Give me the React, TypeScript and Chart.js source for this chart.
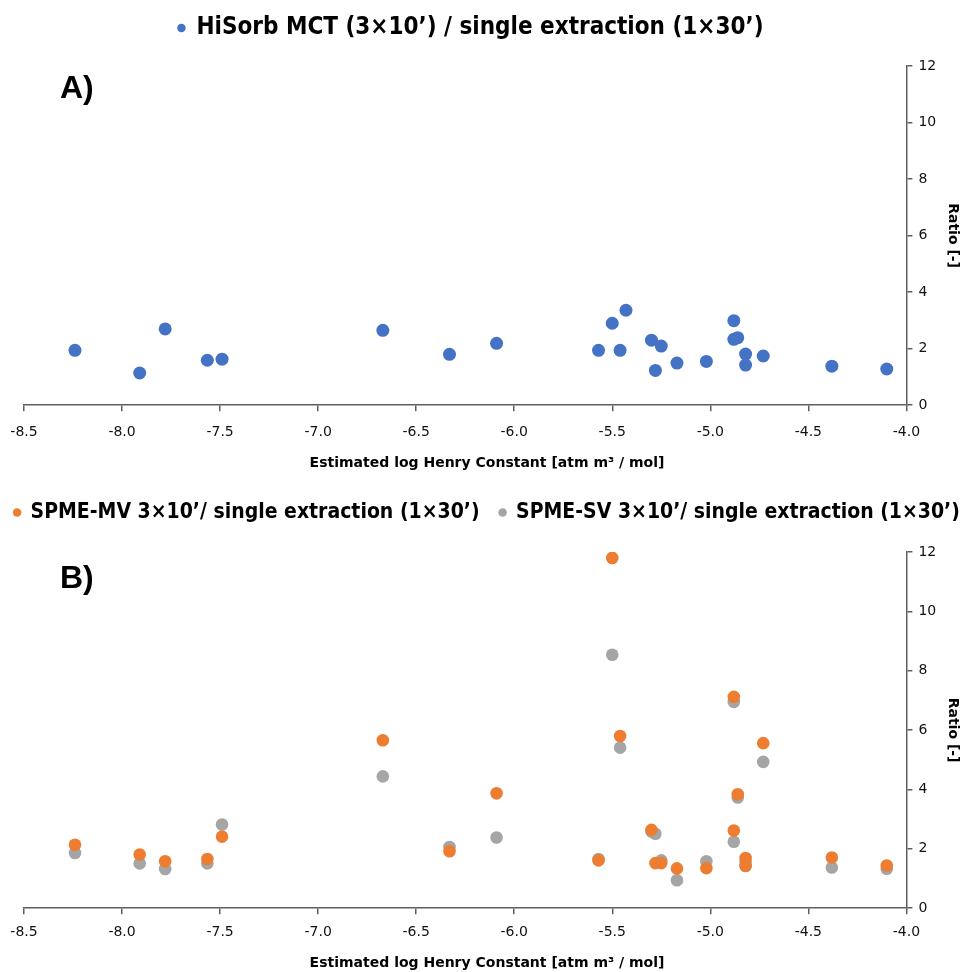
import React, { useEffect, useRef } from 'react';
import { Chart, registerables } from 'chart.js';

Chart.register(...registerables);

// Estimated log Henry constant of each compound (shared by both panels)
const henryLog = [
  -8.24, -7.91, -7.78, -7.565, -7.49, -6.67, -6.33, -6.09, -5.57, -5.5, -5.46, -5.43,
  -5.3, -5.28, -5.25, -5.17, -5.02, -4.88, -4.88, -4.86, -4.82, -4.82, -4.73, -4.38, -4.1,
];

// Panel A: HiSorb MCT ratio
const hisorbRatio = [
  1.94, 1.14, 2.7, 1.59, 1.63, 2.65, 1.8, 2.19, 1.94, 2.9, 1.94, 3.36,
  2.3, 1.23, 2.09, 1.49, 1.55, 2.99, 2.33, 2.39, 1.81, 1.42, 1.74, 1.38, 1.28,
];

// Panel B: SPME-MV and SPME-SV ratios
const spmeMvRatio = [
  2.14, 1.81, 1.58, 1.66, 2.41, 5.66, 1.92, 3.87, 1.61, 11.8, 5.8, null,
  2.64, 1.52, 1.52, 1.34, 1.35, 7.12, 2.62, 3.84, 1.69, 1.43, 5.56, 1.71, 1.44,
];
const spmeSvRatio = [
  1.86, 1.51, 1.32, 1.51, 2.82, 4.44, 2.06, 2.38, 1.66, 8.54, 5.41, null,
  2.58, 2.51, 1.61, 0.94, 1.58, 6.95, 2.24, 3.73, 1.56, 1.42, 4.93, 1.37, 1.33,
];

const xTicks = [-8.5, -8.0, -7.5, -7.0, -6.5, -6.0, -5.5, -5.0, -4.5, -4.0];
const yTicks = [0, 2, 4, 6, 8, 10, 12];

const legendHiSorb = 'HiSorb MCT (3×10’) / single extraction (1×30’)';
const legendMv = 'SPME-MV 3×10’/ single extraction (1×30’)';
const legendSv = 'SPME-SV 3×10’/ single extraction (1×30’)';
const xTitle = 'Estimated log Henry Constant [atm m³ / mol]';
const yTitle = 'Ratio [-]';

const BLUE = '#4472C4';
const ORANGE = '#ED7D31';
const GRAY = '#A5A5A5';
const AXIS = '#5f5f5f';

const toPoints = (ys: (number | null)[]) =>
  henryLog.map((x, i) => ({ x, y: ys[i] })).filter((p) => p.y !== null);

const panelText = {
  id: 'panelText',
  afterDraw(chart: any, _args: any, opts: any) {
    const { ctx, chartArea } = chart;
    ctx.save();
    ctx.fillStyle = '#000';
    ctx.font = 'bold 32px "Liberation Sans", Arial, sans-serif';
    ctx.textAlign = 'left';
    ctx.textBaseline = 'alphabetic';
    ctx.fillText(opts.label, opts.labelX, opts.labelY);
    ctx.font = 'bold 14px "DejaVu Sans", Verdana, sans-serif';
    ctx.textAlign = 'center';
    ctx.textBaseline = 'middle';
    ctx.fillText(xTitle, opts.titleX, chartArea.bottom + opts.titleOffset);
    ctx.restore();
  },
};

// extra space below the legend row, no wrapping, optional horizontal shift
const legendTweak = {
  id: 'legendTweak',
  beforeInit(chart: any, _args: any, opts: any) {
    const legend = chart.legend;
    if (!legend) return;
    const orig = legend.fit;
    legend.fit = function () {
      const mw = this.maxWidth;
      this.maxWidth = mw + 60;
      orig.call(this);
      this.maxWidth = mw;
      this.width = Math.min(this.width, mw);
      this.height += opts.extra || 0;
    };
  },
  afterLayout(chart: any, _args: any, opts: any) {
    const legend = chart.legend;
    if (!legend) return;
    const widen = 30;
    legend.left += (opts.dx || 0) - widen;
    legend.right += (opts.dx || 0) + widen;
  },
};

type PanelProps = {
  top: number;
  height: number;
  datasets: any[];
  legendSize: number;
  legendPad: number;
  legendExtra: number;
  legendDx: number;
  padTop: number;
  tickPad: number;
  padBottom: number;
  label: string;
  labelY: number;
  titleOffset: number;
};

function Panel(p: PanelProps) {
  const ref = useRef<HTMLCanvasElement | null>(null);
  useEffect(() => {
    if (!ref.current) return;
    const tickFont = { family: '"DejaVu Sans", Verdana, sans-serif', size: 14 };
    const chart = new Chart(ref.current, {
      type: 'scatter',
      data: { datasets: p.datasets },
      options: {
        animation: false,
        responsive: true,
        maintainAspectRatio: false,
        layout: { padding: { left: 5, right: 7, top: p.padTop, bottom: p.padBottom } },
        plugins: {
          legend: {
            position: 'top',
            labels: {
              usePointStyle: true,
              boxWidth: 6,
              boxHeight: 6,
              padding: p.legendPad,
              color: '#000',
              font: {
                family: '"Liberation Sans Narrow", "DejaVu Sans Condensed", Arial, sans-serif',
                size: p.legendSize,
                weight: 'bold',
              },
            },
          },
          tooltip: { enabled: false },
          legendTweak: { extra: p.legendExtra, dx: p.legendDx },
          panelText: { label: p.label, labelX: 60, labelY: p.labelY, titleX: 487, titleOffset: p.titleOffset },
        } as any,
        scales: {
          x: {
            type: 'linear',
            min: xTicks[0],
            max: xTicks[xTicks.length - 1],
            afterBuildTicks: (axis: any) => {
              axis.ticks = xTicks.map((v) => ({ value: v }));
            },
            afterFit: (axis: any) => {
              axis.paddingLeft = 24;
            },
            ticks: {
              callback: (v: any) => Number(v).toFixed(1),
              font: tickFont,
              color: '#111',
              padding: p.tickPad,
            },
            grid: { drawOnChartArea: false, drawTicks: true, tickLength: 6, color: AXIS, lineWidth: 1.5 },
            border: { display: true, color: AXIS, width: 1.5 },
          },
          y: {
            type: 'linear',
            position: 'right',
            min: yTicks[0],
            max: yTicks[yTicks.length - 1],
            afterBuildTicks: (axis: any) => {
              axis.ticks = yTicks.map((v) => ({ value: v }));
            },
            ticks: { font: tickFont, color: '#111', padding: 6 },
            grid: { drawOnChartArea: false, drawTicks: true, tickLength: 6, color: AXIS, lineWidth: 1.5 },
            border: { display: true, color: AXIS, width: 1.5 },
            title: {
              display: true,
              text: yTitle,
              color: '#000',
              padding: 2,
              font: { family: '"DejaVu Sans", Verdana, sans-serif', size: 14, weight: 'bold' },
            },
          },
        },
      },
      plugins: [legendTweak, panelText],
    });
    return () => chart.destroy();
  }, []);
  return (
    <div style={{ position: 'absolute', left: 0, top: p.top, width: 970, height: p.height }}>
      <canvas ref={ref} />
    </div>
  );
}

export default function App() {
  const dsA = [
    {
      label: legendHiSorb,
      data: toPoints(hisorbRatio),
      backgroundColor: BLUE,
      borderColor: BLUE,
      borderWidth: 0,
      pointRadius: 6.5,
      pointStyle: 'circle',
    },
  ];
  const dsB = [
    {
      label: legendMv,
      data: toPoints(spmeMvRatio),
      backgroundColor: ORANGE,
      borderColor: ORANGE,
      borderWidth: 0,
      pointRadius: 6.3,
      pointStyle: 'circle',
    },
    {
      label: legendSv,
      data: toPoints(spmeSvRatio),
      backgroundColor: GRAY,
      borderColor: GRAY,
      borderWidth: 0,
      pointRadius: 6.3,
      pointStyle: 'circle',
    },
  ];
  return (
    <div style={{ position: 'absolute', left: 0, top: 0, width: 970, height: 972, background: '#fff' }}>
      <Panel top={0} height={481} datasets={dsA} legendSize={24} legendPad={12} legendExtra={16} legendDx={-13}
        padTop={4} tickPad={13} padBottom={27} label="A)" labelY={98} titleOffset={58} />
      <Panel top={482} height={490} datasets={dsB} legendSize={21} legendPad={20} legendExtra={19} legendDx={3}
        padTop={0} tickPad={10} padBottom={21} label="B)" labelY={106} titleOffset={55} />
    </div>
  );
}
